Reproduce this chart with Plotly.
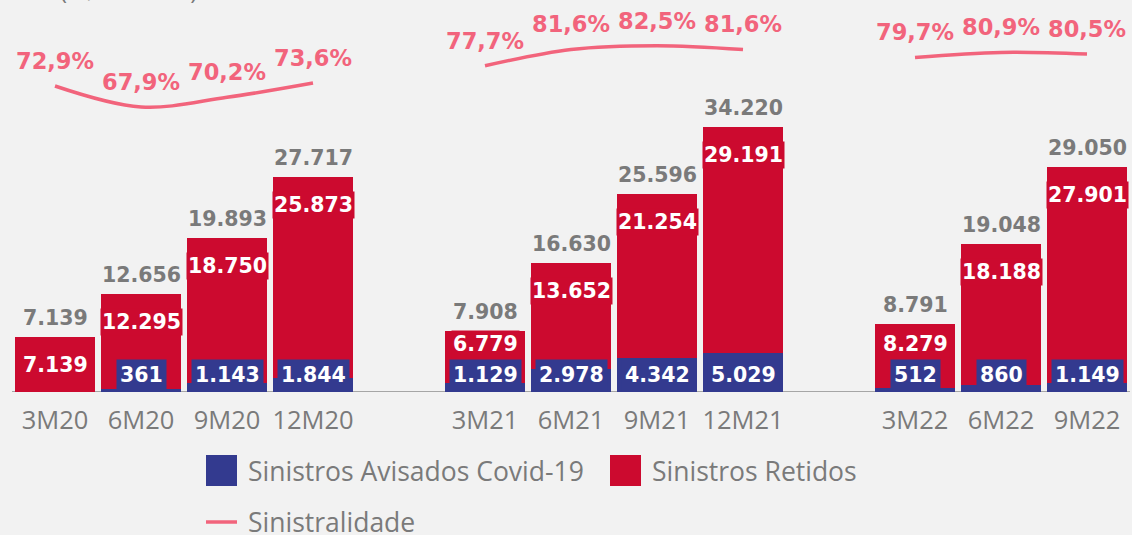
import plotly.graph_objects as go

# ---------------- data ----------------
periods = ["3M20", "6M20", "9M20", "12M20", "",
           "3M21", "6M21", "9M21", "12M21", "",
           "3M22", "6M22", "9M22"]
covid = [0, 361, 1143, 1844, None,
         1129, 2978, 4342, 5029, None,
         512, 860, 1149]
retidos = [7139, 12295, 18750, 25873, None,
           6779, 13652, 21254, 29191, None,
           8279, 18188, 27901]
sinistralidade = [72.9, 67.9, 70.2, 73.6, None,
                  77.7, 81.6, 82.5, 81.6, None,
                  79.7, 80.9, 80.5]

# ---------------- style ----------------
W, H = 1132, 535
ML, MR, MT, MB = 12, 2, 10, 143
PLOT_W = W - ML - MR
PLOT_H = H - MT - MB
BAR_SCALE = 0.007744      # px per unit
PCT_SCALE = 4.198         # px per percentage point
YMAX = PLOT_H / BAR_SCALE
Y2MAX = PLOT_H / PCT_SCALE

BLUE = "#333A8F"
RED = "#CC0A2F"
PINK = "#F2647C"
GRAY = "#7A7A7A"
BG = "#F2F2F2"
BOLD = "DejaVu Sans"
REG = "Open Sans"

def fmt(v):
    return f"{v:,.0f}".replace(",", ".")

def fmt_pct(v):
    return f"{v:.1f}".replace(".", ",") + "%"

xs = list(range(len(periods)))
totals = [None if c is None else c + r for c, r in zip(covid, retidos)]

fig = go.Figure()
fig.add_trace(go.Bar(x=xs, y=covid, marker=dict(color=BLUE, line=dict(width=0)),
                     width=0.919, name="Sinistros Avisados Covid-19",
                     showlegend=False, hoverinfo="skip"))
fig.add_trace(go.Bar(x=xs, y=retidos, marker=dict(color=RED, line=dict(width=0)),
                     width=0.919, name="Sinistros Retidos",
                     showlegend=False, hoverinfo="skip"))
fig.add_trace(go.Scatter(x=xs, y=sinistralidade, yaxis="y2", mode="lines",
                         line=dict(color=PINK, width=3.5, shape="spline", smoothing=1.0),
                         connectgaps=False, name="Sinistralidade",
                         showlegend=False, hoverinfo="skip"))

ann = []
for i, (c, r, t, p) in enumerate(zip(covid, retidos, totals, sinistralidade)):
    if t is None:
        continue
    top_px = PLOT_H - t * BAR_SCALE  # relative to plot top
    # total label
    ann.append(dict(x=i, y=t, xref="x", yref="y", text=fmt(t), showarrow=False,
                    yanchor="bottom", yshift=5,
                    font=dict(family=BOLD, size=20.5, color=GRAY, weight="bold")))
    # retidos label
    shift = 28
    if c:
        limit = (344 - MT)
        shift = min(28, limit - top_px)
    ann.append(dict(x=i, y=t, xref="x", yref="y", text=fmt(r), showarrow=False,
                    yanchor="middle", yshift=-shift, bgcolor=RED, borderpad=1,
                    font=dict(family=BOLD, size=20.5, color="white", weight="bold")))
    # covid label
    if c:
        ann.append(dict(x=i, y=0, xref="x", yref="y", text=fmt(c), showarrow=False,
                        yanchor="bottom", yshift=1, bgcolor=BLUE, borderpad=3,
                        font=dict(family=BOLD, size=20.5, color="white", weight="bold")))
    # percentage label
    ann.append(dict(x=i, y=p, xref="x", yref="y2", text=fmt_pct(p), showarrow=False,
                    yanchor="middle", yshift=25,
                    font=dict(family=BOLD, size=22.5, color=PINK, weight="bold")))

def px_x(px):
    return (px - ML) / PLOT_W

def px_y(py):
    return (H - MB - py) / PLOT_H

shapes = [
    dict(type="rect", xref="paper", yref="paper", x0=px_x(206), x1=px_x(237),
         y0=px_y(486), y1=px_y(455), fillcolor=BLUE, line=dict(width=0)),
    dict(type="rect", xref="paper", yref="paper", x0=px_x(610), x1=px_x(641),
         y0=px_y(486), y1=px_y(455), fillcolor=RED, line=dict(width=0)),
    dict(type="line", xref="paper", yref="paper", x0=px_x(206), x1=px_x(237),
         y0=px_y(522), y1=px_y(522), line=dict(color=PINK, width=3.5)),
    dict(type="line", xref="paper", yref="y", x0=0, x1=1, y0=0, y1=0,
         line=dict(color="#A6A6A6", width=2), layer="below"),
]
legend_items = [("Sinistros Avisados Covid-19", 248, 471),
                ("Sinistros Retidos", 652, 471),
                ("Sinistralidade", 248, 522)]
for txt, lx, ly in legend_items:
    ann.append(dict(x=px_x(lx - 2), y=px_y(ly), xref="paper", yref="paper", text=txt,
                    showarrow=False, xanchor="left", yanchor="middle",
                    font=dict(family=REG, size=26.5, color=GRAY)))

# partially visible heading at the very top
ann.append(dict(x=px_x(58), y=px_y(8), xref="paper", yref="paper", text="(R$ milhões)",
                showarrow=False, xanchor="left", yanchor="bottom",
                font=dict(family=REG, size=24, color=GRAY)))

fig.update_layout(
    width=W, height=H,
    margin=dict(l=ML, r=MR, t=MT, b=MB),
    paper_bgcolor=BG, plot_bgcolor=BG,
    barmode="stack", bargap=0,
    showlegend=False,
    annotations=ann, shapes=shapes,
    xaxis=dict(range=[-0.5, len(periods) - 0.5], tickmode="array",
               tickvals=[i for i, p in enumerate(periods) if p],
               ticktext=[p for p in periods if p],
               showgrid=False, zeroline=False, showline=False,
               ticks="outside", ticklen=5, tickcolor="rgba(0,0,0,0)",
               tickfont=dict(family=REG, size=25.5, color=GRAY)),
    yaxis=dict(range=[0, YMAX], visible=False, showgrid=False, zeroline=False),
    yaxis2=dict(range=[0, Y2MAX], overlaying="y", visible=False, showgrid=False),
)

fig.write_html("out.html",
               config={"displayModeBar": False},
               post_script="document.body.style.margin='0';"
                           "document.body.style.padding='0';"
                           "document.body.style.overflow='hidden';"
                           "document.body.style.background='#F2F2F2';")
